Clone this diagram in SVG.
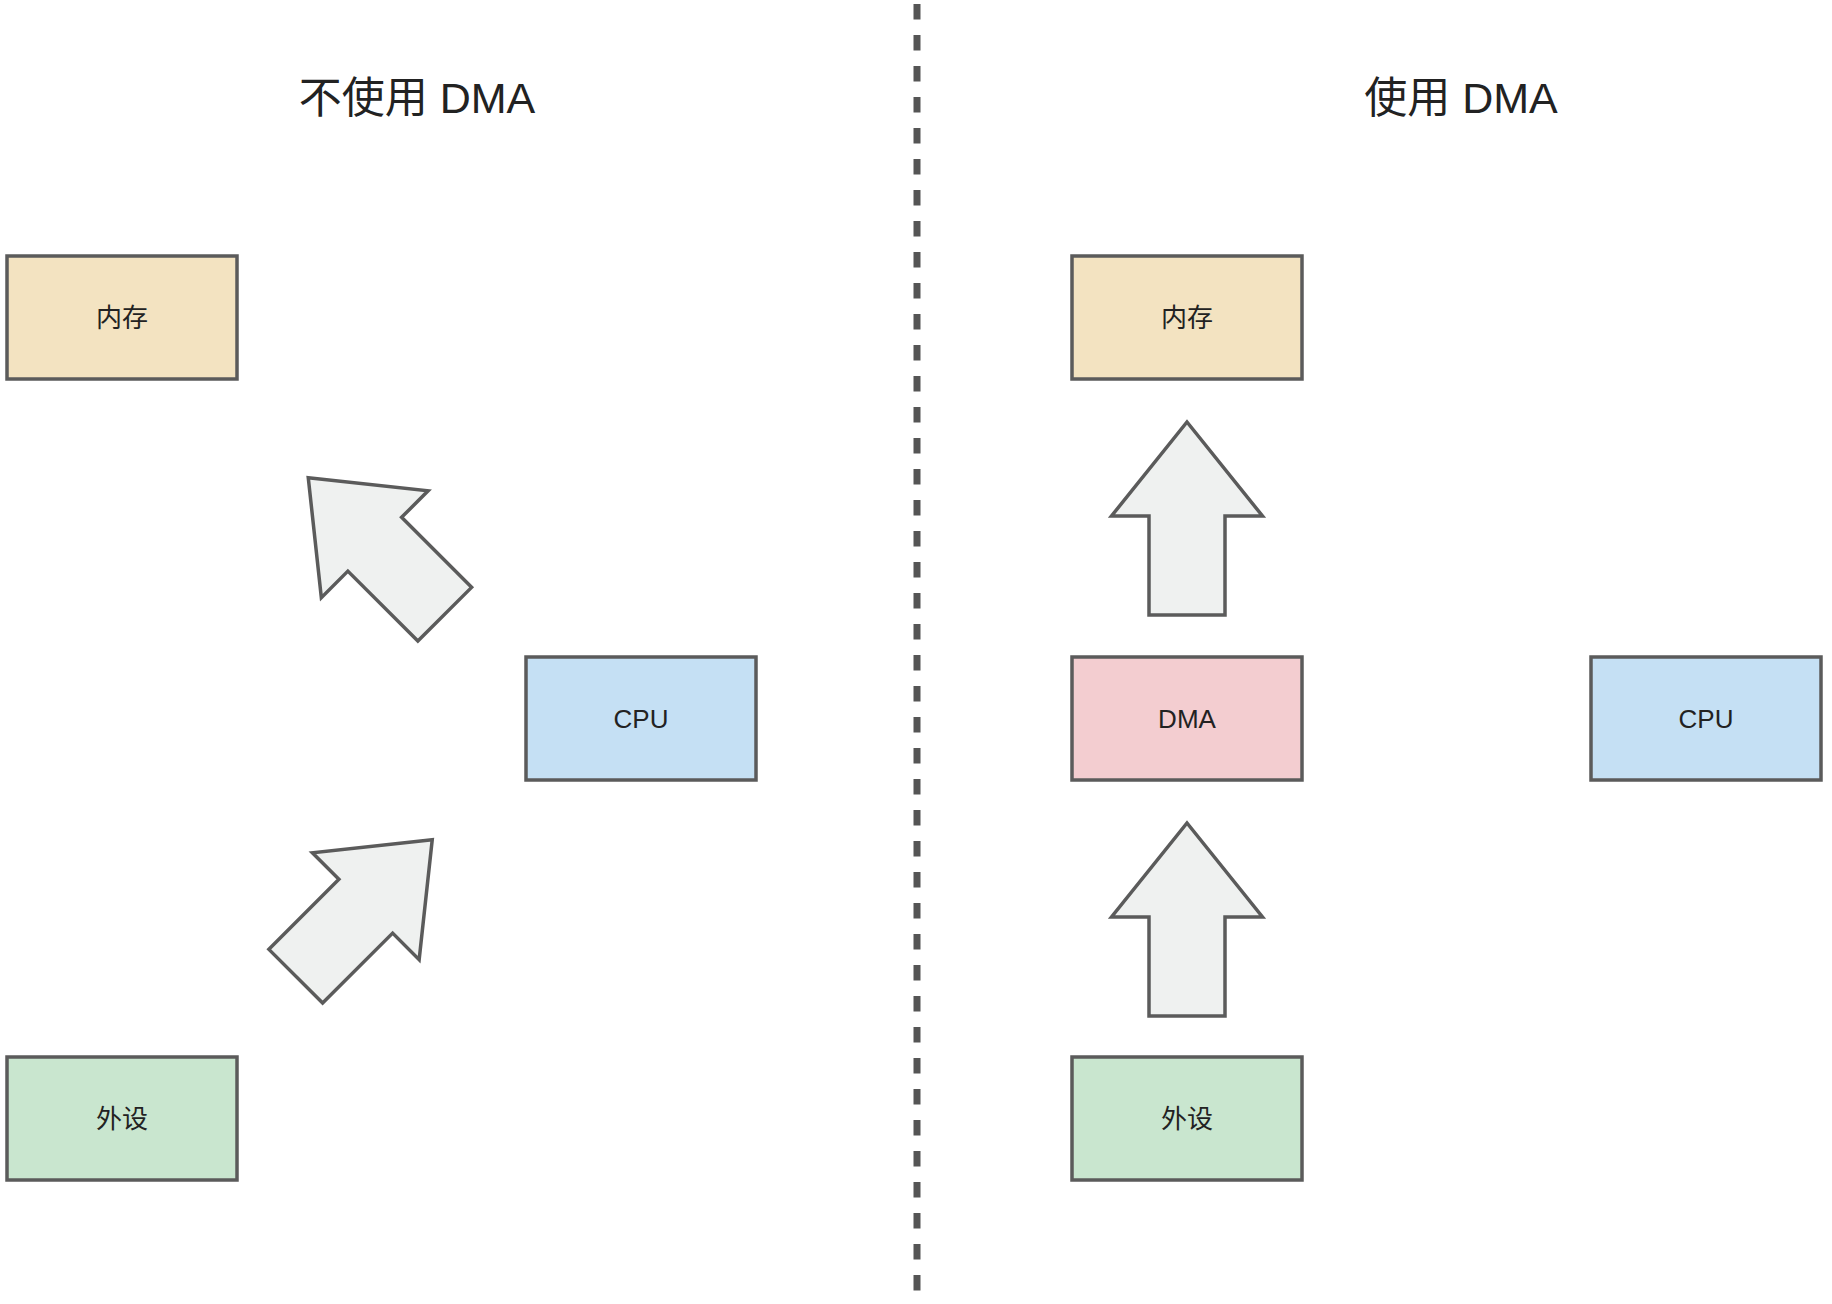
<svg xmlns="http://www.w3.org/2000/svg" xmlns:xlink="http://www.w3.org/1999/xlink" width="1832" height="1304" viewBox="0 0 1832 1304">
<style>
.box{stroke:#5b5b5b;stroke-width:3.5}
.lbl{font-family:"Liberation Sans","Noto Sans CJK SC",sans-serif;font-size:26px;fill:#222;text-anchor:middle;dominant-baseline:central}
.title{font-family:"Liberation Sans","Noto Sans CJK SC",sans-serif;font-size:43px;fill:#222;text-anchor:middle}
.arrow{fill:#eff1f0;stroke:#5b5b5b;stroke-width:3.5;stroke-linejoin:miter}
</style>
<defs>
<polygon id="arr" class="arrow" points="0,-96.5 75.5,-2.5 38,-2.5 38,96.5 -38,96.5 -38,-2.5 -75.5,-2.5"/>
</defs>
<rect width="1832" height="1304" fill="#ffffff"/>
<line x1="917" y1="4" x2="917" y2="1300" stroke="#555555" stroke-width="7" stroke-dasharray="15.5 15.5"/>
<text class="title" x="417" y="113">不使用 DMA</text>
<text class="title" x="1461" y="113">使用 DMA</text>
<g id="connectors">
<use xlink:href="#arr" transform="translate(376.5,546) rotate(-45)"/>
<use xlink:href="#arr" transform="translate(364,908) rotate(45)"/>
<use xlink:href="#arr" transform="translate(1187,518.5)"/>
<use xlink:href="#arr" transform="translate(1187,919.5)"/>
</g>
<g id="mem-left"><rect class="box" x="7" y="256" width="230" height="123" fill="#f3e3c1"/><text class="lbl" x="122" y="318">内存</text></g>
<g id="cpu-left"><rect class="box" x="526" y="657" width="230" height="123" fill="#c5e0f4"/><text class="lbl" x="641" y="719">CPU</text></g>
<g id="dev-left"><rect class="box" x="7" y="1057" width="230" height="123" fill="#c9e6cf"/><text class="lbl" x="122" y="1119">外设</text></g>
<g id="mem-right"><rect class="box" x="1072" y="256" width="230" height="123" fill="#f3e3c1"/><text class="lbl" x="1187" y="318">内存</text></g>
<g id="dma-right"><rect class="box" x="1072" y="657" width="230" height="123" fill="#f3cdd0"/><text class="lbl" x="1187" y="719">DMA</text></g>
<g id="cpu-right"><rect class="box" x="1591" y="657" width="230" height="123" fill="#c5e0f4"/><text class="lbl" x="1706" y="719">CPU</text></g>
<g id="dev-right"><rect class="box" x="1072" y="1057" width="230" height="123" fill="#c9e6cf"/><text class="lbl" x="1187" y="1119">外设</text></g>
</svg>
